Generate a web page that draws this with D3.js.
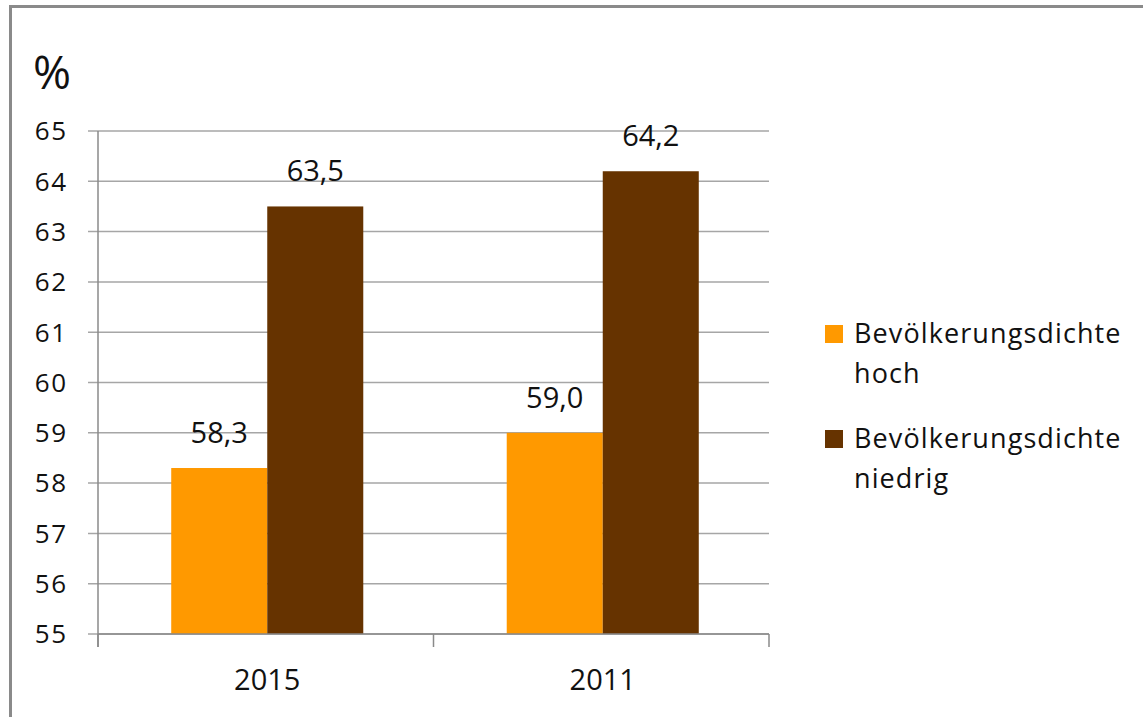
<!DOCTYPE html>
<html>
<head>
<meta charset="utf-8">
<script src="https://cdnjs.cloudflare.com/ajax/libs/d3/7.8.5/d3.min.js"></script>
<style>
	html, body { margin: 0; padding: 0; background: #fff; }
	svg { display: block; font-family: "Open Sans", sans-serif; }
</style>
</head>
<body>
<svg id="chart" width="1143" height="717"></svg>
<script>
/*
Grouped bar chart: share in % by population density, 2015 vs 2011.
*/

//categories along the x axis
var years = ["2015", "2011"];

//series names, shown in the legend
var seriesNames = ["Bevölkerungsdichte hoch", "Bevölkerungsdichte niedrig"];

//values per series, same order as years
var valuesHigh = [58.3, 59.0];
var valuesLow = [63.5, 64.2];

var seriesColors = ["#ff9900", "#663300"];

//y tick labels 55..65
var yTicks = [55, 56, 57, 58, 59, 60, 61, 62, 63, 64, 65];

//rows for the bars
var rows = years.map(function(y, i){
	return {year: y, values: [valuesHigh[i], valuesLow[i]]};
});

var svg = d3.select("#chart");

//german number format, 58,3
var de = d3.formatLocale({decimal: ",", thousands: ".", grouping: [3], currency: ["", " €"]});
var fmt = de.format(".1f");

//outer frame of the chart, right and bottom sides run off the page
svg.append("rect")
.attr("x", 10.5)
.attr("y", 6.5)
.attr("width", 1200)
.attr("height", 800)
.attr("fill", "none")
.attr("stroke", "#8a8a8a")
.attr("stroke-width", 3);

//scales
var x = d3.scaleBand()
.domain(years)
.range([98, 769]);

var xInner = d3.scaleBand()
.domain(d3.range(seriesNames.length))
.range([0, x.bandwidth()])
.paddingOuter(0.747);

var y = d3.scaleLinear()
.domain([55, 65])
.range([634, 131]);

//gridlines, they also make the little tick marks left of the axis
svg.append("g")
.selectAll("line")
.data(yTicks)
.enter()
.append("line")
.attr("x1", 88)
.attr("x2", 769)
.attr("y1", function(d){ return y(d); })
.attr("y2", function(d){ return y(d); })
.attr("stroke", "#a6a6a6")
.attr("stroke-width", 1.5);

//y tick labels
svg.append("g")
.selectAll("text")
.data(yTicks)
.enter()
.append("text")
.attr("x", 68)
.attr("y", function(d){ return y(d); })
.attr("dy", "0.36em")
.attr("text-anchor", "end")
.attr("font-size", 26)
.attr("letter-spacing", 1.8)
.attr("fill", "#111")
.text(function(d){ return d; });

//% label on top of the y axis
svg.append("text")
.attr("x", 33)
.attr("y", 89)
.attr("font-size", 46)
.attr("fill", "#111")
.text("%");

//bars, nudged 1.5px right to sit like the original
var groups = svg.append("g")
.selectAll("g")
.data(rows)
.enter()
.append("g")
.attr("transform", function(d){ return "translate(" + (x(d.year) + 1.5) + ",0)"; });

groups.selectAll("rect")
.data(function(d){ return d.values; })
.enter()
.append("rect")
.attr("x", function(d, i){ return xInner(i); })
.attr("width", xInner.bandwidth())
.attr("y", function(d){ return y(d); })
.attr("height", function(d){ return y(55) - y(d); })
.attr("fill", function(d, i){ return seriesColors[i]; });

//value labels above bars
groups.selectAll("text")
.data(function(d){ return d.values; })
.enter()
.append("text")
.attr("x", function(d, i){ return xInner(i) + xInner.bandwidth() / 2; })
.attr("y", function(d){ return y(d) - 25; })
.attr("text-anchor", "middle")
.attr("font-size", 29)
.attr("fill", "#111")
.text(function(d){ return fmt(d); });

//axes: y line and x line with ticks at the band edges
svg.append("line")
.attr("x1", 98).attr("x2", 98)
.attr("y1", 131).attr("y2", 647)
.attr("stroke", "#8a8a8a")
.attr("stroke-width", 1.5);

svg.append("line")
.attr("x1", 98).attr("x2", 769)
.attr("y1", y(55)).attr("y2", y(55))
.attr("stroke", "#8a8a8a")
.attr("stroke-width", 1.5);

var edges = years.map(function(d){ return x(d); }).concat([x.range()[1]]);
svg.append("g")
.selectAll("line")
.data(edges)
.enter()
.append("line")
.attr("x1", function(d){ return d; })
.attr("x2", function(d){ return d; })
.attr("y1", y(55))
.attr("y2", 647)
.attr("stroke", "#8a8a8a")
.attr("stroke-width", 1.5);

//category labels
svg.append("g")
.selectAll("text")
.data(years)
.enter()
.append("text")
.attr("x", function(d){ return x(d) + x.bandwidth() / 2 + 1.5; })
.attr("y", 690)
.attr("text-anchor", "middle")
.attr("font-size", 29)
.attr("fill", "#111")
.text(function(d){ return d; });

//legend, every name wraps onto two lines
var legend = svg.append("g")
.selectAll("g")
.data(seriesNames)
.enter()
.append("g")
.attr("transform", function(d, i){ return "translate(825," + (325 + i * 105) + ")"; });

legend.append("rect")
.attr("width", 18)
.attr("height", 18)
.attr("fill", function(d, i){ return seriesColors[i]; });

var legendText = legend.append("text")
.attr("x", 29)
.attr("y", 18)
.attr("font-size", 27)
.attr("letter-spacing", 1.1)
.attr("fill", "#111");

legendText.append("tspan")
.attr("x", 29)
.text(function(d){ return d.split(" ")[0]; });

legendText.append("tspan")
.attr("x", 29)
.attr("dy", 40)
.text(function(d){ return d.split(" ")[1]; });
</script>
</body>
</html>
